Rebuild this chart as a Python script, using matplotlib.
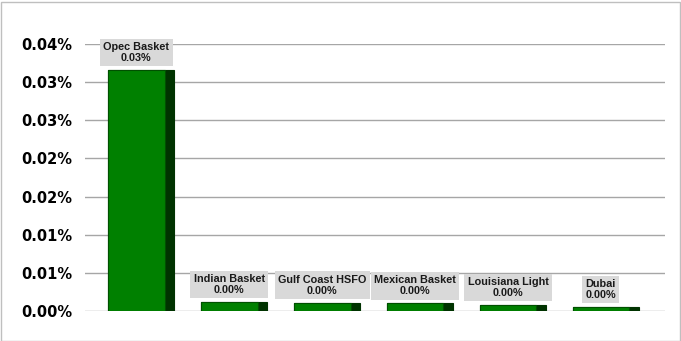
import numpy as np
import matplotlib
matplotlib.use("Agg")
from matplotlib import pyplot as plt
from matplotlib.patches import Rectangle

# data (percent)
categories = ["Opec Basket", "Indian Basket", "Gulf Coast HSFO",
              "Mexican Basket", "Louisiana Light", "Dubai"]
values = [0.0361, 0.00135, 0.00124, 0.00115, 0.0009, 0.0006]
value_labels = ["0.03%", "0.00%", "0.00%", "0.00%", "0.00%", "0.00%"]
y_ticks = np.linspace(0, 0.04, 8)

front_color = "#008000"
side_color = "#003300"

fig = plt.figure(figsize=(6.81, 3.41), dpi=100)
ax = fig.add_axes([85 / 681, 30 / 341, 580 / 681, 267 / 341])

x = np.arange(len(categories))
left = x - 0.355
# dark side face first, then front face over it
ax.bar(left, values, width=0.71, align="edge", color=side_color,
       edgecolor=side_color, linewidth=0.8, zorder=3)
ax.bar(left, values, width=0.61, align="edge", color=front_color,
       edgecolor="#005000", linewidth=0.8, zorder=4)

for xi, v, name, lab in zip(left + 0.305, values, categories, value_labels):
    ax.annotate(f"{name}\n{lab}", xy=(xi, v), xytext=(0, 5),
                textcoords="offset points", ha="center", va="bottom",
                fontsize=7.8, fontfamily="Liberation Sans", fontweight="bold",
                color="#1a1a1a", linespacing=1.15, zorder=5,
                bbox=dict(boxstyle="square,pad=0.3", fc="#d9d9d9", ec="none"))

ax.set_xlim(-0.603, 5.64)
ax.set_ylim(0, 0.04)
ax.set_xticks([])
ax.set_yticks(y_ticks)
ax.set_yticklabels([f"{t:.2f}%" for t in y_ticks], fontsize=10.5,
                   fontweight="bold", fontfamily="DejaVu Sans")
ax.tick_params(axis="y", length=0, pad=9)
ax.grid(axis="y", color="#a6a6a6", linewidth=1.0, zorder=0)
for s in ax.spines.values():
    s.set_visible(False)

fig.patches.append(Rectangle((0.5 / 681, 0.5 / 341), 679 / 681, 339 / 341,
                             transform=fig.transFigure, fill=False,
                             edgecolor="#bfbfbf", linewidth=1.0))

fig.savefig("out.png", dpi=100)
